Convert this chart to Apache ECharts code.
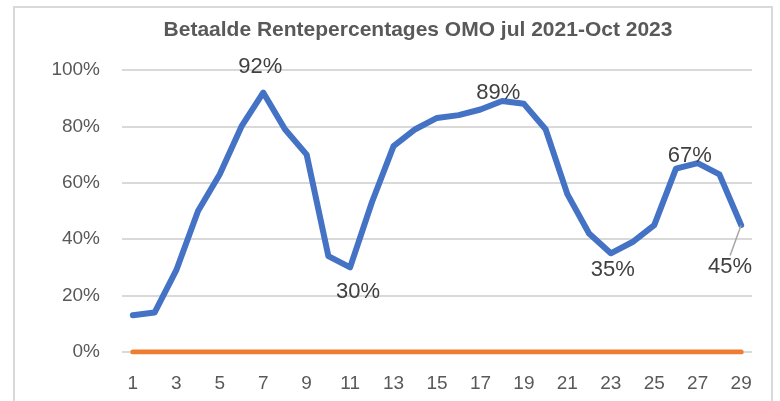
<!DOCTYPE html>
<html lang="nl">
<head>
    <meta charset="UTF-8">
    <title>Betaalde Rentepercentages OMO</title>
    <script src="https://cdn.jsdelivr.net/npm/echarts@6/dist/echarts.min.js"></script>
    <style type="text/css">
        html, body {
            margin: 0;
            padding: 0;
            background: #ffffff;
        }

        #frame {
            position: absolute;
            left: 13px;
            top: 6px;
            width: 756px;
            height: 400px;
            border: 2px solid #d9d9d9;
        }

        #main-chart {
            position: absolute;
            left: 0;
            top: 0;
            width: 780px;
            height: 401px;
        }
    </style>
</head>
<body>
<div id="frame"></div>
<div id="main-chart"></div>
<script type="text/javascript">
    // maanden 1..29 (jul 2021 - okt 2023)
    const months = ['1', '2', '3', '4', '5', '6', '7', '8', '9', '10', '11', '12', '13', '14', '15',
        '16', '17', '18', '19', '20', '21', '22', '23', '24', '25', '26', '27', '28', '29'];
    // betaalde rente in %
    const paidRate = [13, 14, 29, 50, 63, 80, 92, 79, 70, 34, 30, 53, 73, 79, 83,
        84, 86, 89, 88, 79, 56, 42, 35, 39, 45, 65, 67, 63, 45];
    const baseLine = [0, 0, 0, 0, 0, 0, 0, 0, 0, 0, 0, 0, 0, 0, 0,
        0, 0, 0, 0, 0, 0, 0, 0, 0, 0, 0, 0, 0, 0];
    // welke punten een label krijgen (index -> positie)
    const labelledPoints = {6: 'top', 10: 'bottom', 17: 'top', 22: 'bottom', 26: 'top', 28: 'bottom'};
    const labelOffsets = {6: [-3, -9], 10: [8, 8], 17: [-4, 8], 22: [2, 0], 26: [-8, 9], 28: [-11, 25]};
    const lastIdx = paidRate.length - 1;

    const grey = '#595959';

    let blueData = paidRate.map((v, i) => {
        if (labelledPoints[i] === undefined) {
            return v;
        }
        return {
            value: v,
            label: {
                show: true,
                position: labelledPoints[i]
            },
            labelLine: {show: i === lastIdx}  // alleen laatste label heeft een lijntje
        };
    });

    const chart = echarts.init(document.getElementById('main-chart'));
    chart.setOption({
        animation: false,
        title: {
            text: 'Betaalde Rentepercentages OMO jul 2021-Oct 2023',
            left: 413,
            top: 15,
            textAlign: 'center',
            textStyle: {
                fontFamily: 'Liberation Sans',
                fontWeight: 'bold',
                fontSize: 21,
                color: grey
            }
        },
        grid: {
            left: 122,
            right: 28,
            top: 70,
            bottom: 49
        },
        xAxis: {
            type: 'category',
            data: months,
            boundaryGap: true,
            axisLine: {show: false},
            axisTick: {show: false},
            axisLabel: {
                interval: 1,
                margin: 22,
                fontFamily: 'Liberation Sans',
                fontSize: 19,
                color: grey
            }
        },
        yAxis: {
            type: 'value',
            min: 0,
            max: 100,
            interval: 20,
            axisLabel: {
                formatter: '{value}%',
                margin: 22,
                fontFamily: 'Liberation Sans',
                fontSize: 19,
                color: grey
            },
            splitLine: {
                lineStyle: {color: '#d9d9d9', width: 2}
            }
        },
        series: [
            {
                name: 'nul',
                type: 'line',
                data: baseLine,
                symbol: 'none',
                lineStyle: {color: '#ed7d31', width: 5, cap: 'round'},
                z: 2
            },
            {
                name: 'rente',
                type: 'line',
                data: blueData,
                symbol: 'circle',
                symbolSize: 1,
                showSymbol: true,
                itemStyle: {color: 'rgba(0,0,0,0)'},
                lineStyle: {color: '#4472c4', width: 6, join: 'round', cap: 'round'},
                label: {
                    formatter: '{c}%',
                    fontFamily: 'Liberation Sans',
                    fontSize: 22,
                    color: '#404040'
                },
                labelLine: {
                    show: false,
                    lineStyle: {color: '#a6a6a6', width: 1.5}
                },
                labelLayout: function (params) {
                    let off = labelOffsets[params.dataIndex];
                    if (!off) {
                        return {};
                    }
                    let res = {dx: off[0], dy: off[1]};
                    if (params.dataIndex === lastIdx) {
                        // schuin lijntje van net onder het punt naar het label
                        let cx = params.rect.x + params.rect.width / 2;
                        let cy = params.rect.y + params.rect.height / 2;
                        res.labelLinePoints = [[cx - 1, cy + 4], [cx - 11, cy + 17]];
                    }
                    return res;
                },
                z: 3
            }
        ]
    });
</script>
</body>
</html>
